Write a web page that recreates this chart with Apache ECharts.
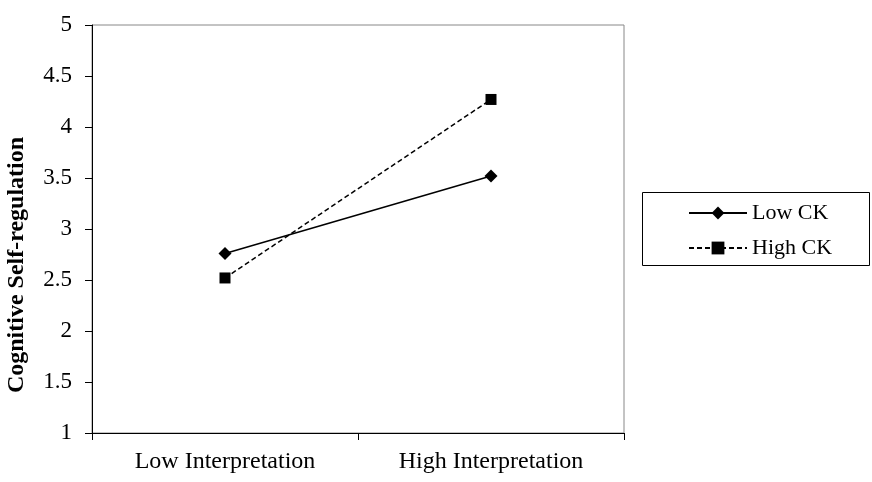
<!DOCTYPE html>
<html>
<head>
<meta charset="utf-8">
<script src="https://cdn.jsdelivr.net/npm/echarts@6/dist/echarts.min.js"></script>
<style>
  html, body { margin: 0; padding: 0; background: #fff; }
  #chart { width: 872px; height: 482px; }
</style>
</head>
<body>
<div id="chart"></div>
<script>
  // 数据
  const categories = ['Low Interpretation', 'High Interpretation']
  const lowCK = [2.76, 3.52]
  const highCK = [2.52, 4.27]
  const yTicks = [1, 1.5, 2, 2.5, 3, 3.5, 4, 4.5, 5]

  const font = 'Liberation Serif, Times New Roman, serif'
  const chart = echarts.init(document.getElementById('chart'))

  const option = {
    backgroundColor: '#fff',
    animation: false,
    textStyle: { fontFamily: font },
    grid: {
      left: 92, right: 248, top: 25, bottom: 49,
      outerBoundsMode: 'none',
      show: true, borderColor: '#888', borderWidth: 1
    },
    legend: {
      orient: 'vertical',
      left: 683, top: 197,
      itemWidth: 58, itemHeight: 16, itemGap: 13,
      textStyle: { fontFamily: font, fontSize: 22, color: '#000' },
      data: ['Low CK', 'High CK']
    },
    graphic: [{
      type: 'rect',
      shape: { x: 642.5, y: 192.5, width: 227, height: 73 },
      style: { fill: 'none', stroke: '#000', lineWidth: 1 },
      z: 10
    }],
    xAxis: {
      type: 'category',
      data: categories,
      boundaryGap: true,
      axisLine: { lineStyle: { color: '#000', width: 1 } },
      axisTick: { show: true, length: 7, lineStyle: { color: '#000' } },
      axisLabel: { fontFamily: font, fontSize: 24, color: '#000', margin: 17 },
      splitLine: { show: false }
    },
    yAxis: {
      type: 'value',
      min: yTicks[0],
      max: yTicks[yTicks.length - 1],
      interval: 0.5,
      name: 'Cognitive Self-regulation',
      nameLocation: 'middle',
      nameGap: 63,
      nameTextStyle: {
        fontFamily: font, fontSize: 24, fontWeight: 'bold', color: '#000',
        padding: [0, 72, 0, 0]
      },
      axisLine: { show: true, lineStyle: { color: '#000', width: 1 } },
      axisTick: { show: true, length: 7, lineStyle: { color: '#000' } },
      axisLabel: { fontFamily: font, fontSize: 23, color: '#000', margin: 20 },
      splitLine: { show: false }
    },
    series: [
      {
        name: 'Low CK',
        type: 'line',
        data: lowCK,
        symbol: 'diamond',
        symbolSize: 13,
        itemStyle: { color: '#000' },
        lineStyle: { color: '#000', width: 1.5 }
      },
      {
        name: 'High CK',
        type: 'line',
        data: highCK,
        symbol: 'rect',
        symbolSize: 11,
        itemStyle: { color: '#000' },
        lineStyle: { color: '#000', width: 1.5, type: [5, 3] }
      }
    ]
  }
  chart.setOption(option)
</script>
</body>
</html>
